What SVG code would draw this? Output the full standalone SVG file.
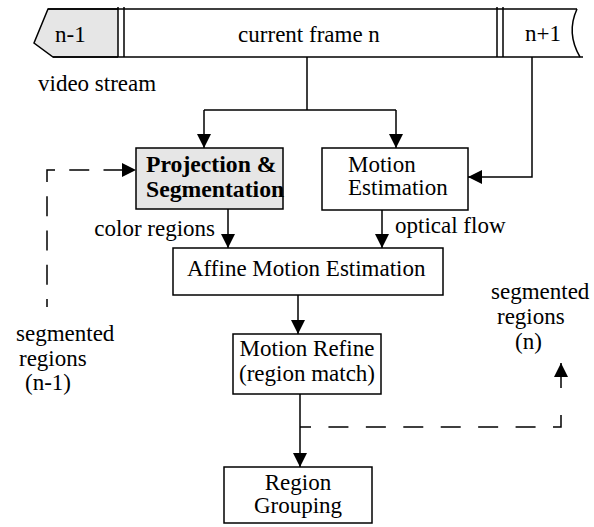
<svg xmlns="http://www.w3.org/2000/svg" width="594" height="527" viewBox="0 0 594 527">
<defs>
<style>
text{font-family:"Liberation Serif","Times New Roman",serif;font-size:23px;fill:#000}
.b{font-weight:bold;font-size:23.7px}
.box{fill:#fff;stroke:#000;stroke-width:1.5}
.gray{fill:#e6e6e6;stroke:#000;stroke-width:1.5}
.ln{fill:none;stroke:#000;stroke-width:1.5}
.dash{fill:none;stroke:#000;stroke-width:1.5}
</style>
<marker id="ah" viewBox="0 0 14 14" refX="14" refY="7" markerWidth="14" markerHeight="14" markerUnits="userSpaceOnUse" orient="auto">
<path d="M0,0 L14,7 L0,14 Z" fill="#000"/>
</marker>
</defs>
<g id="stream">
<path class="gray" d="M118,9 L48,9 L34,43 L53,57 L118,57"/>
<path class="ln" d="M48,9 L577,9 M53,57 L583,57"/>
<path class="ln" d="M577,9 Q566,33 580,57"/>
<path class="ln" d="M118,7 L118,57 M124,7 L124,57 M497,7 L497,57 M503,7 L503,57"/>
<text x="55" y="42">n-1</text>
<text x="309" y="42" text-anchor="middle">current frame n</text>
<text x="525" y="41">n+1</text>
<text x="38" y="91">video stream</text>
</g>
<g id="connectors">
<path class="ln" d="M307,57 L307,110 M204,110 L396,110"/>
<path class="ln" marker-end="url(#ah)" d="M204,110 L204,148"/>
<path class="ln" marker-end="url(#ah)" d="M396,110 L396,148"/>
<path class="ln" marker-end="url(#ah)" d="M532,57 L532,177 L468,177"/>
<path class="ln" marker-end="url(#ah)" d="M228,209 L228,248"/>
<path class="ln" marker-end="url(#ah)" d="M382,210 L382,248"/>
<path class="ln" marker-end="url(#ah)" d="M298,295 L298,334"/>
<path class="ln" marker-end="url(#ah)" d="M300,394 L300,467"/>
<path class="dash" style="stroke-dasharray:20 14.25;stroke-dashoffset:12" marker-end="url(#ah)" d="M47,307 L47,170 L136,170"/>
<path class="dash" style="stroke-dasharray:20 17.43;stroke-dashoffset:9" d="M300,427 L561,427 L561,413"/>
<path class="ln" marker-end="url(#ah)" d="M561,388 L561,363"/>
</g>
<g id="proj">
<rect class="gray" x="136" y="148" width="147" height="61"/>
<text class="b" x="146" y="172">Projection &amp;</text>
<text class="b" x="146" y="197">Segmentation</text>
</g>
<g id="motion">
<rect class="box" x="322" y="148" width="146" height="62"/>
<text x="348" y="172">Motion</text>
<text x="348" y="195">Estimation</text>
</g>
<g id="labels">
<text x="215" y="236" text-anchor="end">color regions</text>
<text x="395" y="233">optical flow</text>
<text x="16" y="341">segmented</text>
<text x="19" y="366">regions</text>
<text x="25" y="390">(n-1)</text>
<text x="491" y="299">segmented</text>
<text x="497" y="324">regions</text>
<text x="515" y="349">(n)</text>
</g>
<g id="affine">
<rect class="box" x="173" y="248" width="270" height="47"/>
<text x="187" y="276">Affine Motion Estimation</text>
</g>
<g id="refine">
<rect class="box" x="233" y="334" width="148" height="60"/>
<text x="307" y="356" text-anchor="middle">Motion Refine</text>
<text x="307" y="381" text-anchor="middle">(region match)</text>
</g>
<g id="grouping">
<rect class="box" x="224" y="467" width="148" height="56"/>
<text x="298" y="490" text-anchor="middle">Region</text>
<text x="298" y="513" text-anchor="middle">Grouping</text>
</g>
</svg>
